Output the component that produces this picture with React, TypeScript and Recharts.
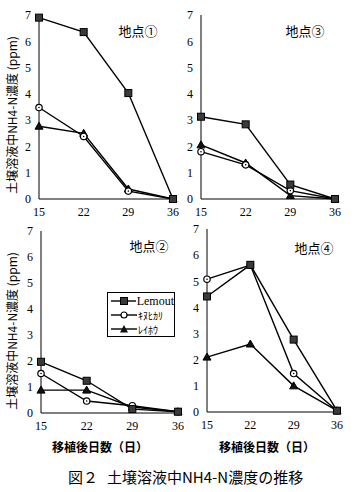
import React from "react"
import { LineChart, Line, XAxis, YAxis } from "recharts"

const days = [15, 22, 29, 36]
const yTicks = [0, 1, 2, 3, 4, 5, 6, 7]

const site1Lemout = [6.9, 6.35, 4.03, 0]
const site1Kinu = [3.48, 2.38, 0.3, 0]
const site1Reiho = [2.77, 2.5, 0.38, 0]

const site3Lemout = [3.13, 2.84, 0.55, 0]
const site3Kinu = [1.8, 1.3, 0.32, 0]
const site3Reiho = [2.06, 1.37, 0.13, 0]

const site2Lemout = [1.97, 1.24, 0.15, 0.05]
const site2Kinu = [1.52, 0.46, 0.28, 0.05]
const site2Reiho = [0.88, 0.88, 0.23, 0.05]

const site4Lemout = [4.42, 5.63, 2.77, 0.05]
const site4Kinu = [5.08, 5.62, 1.47, 0.05]
const site4Reiho = [2.1, 2.6, 1.0, 0.05]

const varieties = ["Lemout", "ｷﾇﾋｶﾘ", "ﾚｲﾎｳ"]
const yLabel = "土壌溶液中NH4-N濃度 (ppm)"
const xLabel = "移植後日数（日）"

const serif = "'Liberation Serif', 'DejaVu Serif', serif"
const jp = "'Noto Sans CJK JP', sans-serif"

function buildRows(a: number[], b: number[], c: number[]) {
  return days.map((d, i) => ({ day: d, lemout: a[i], kinu: b[i], reiho: c[i] }))
}

const SquareDot = (p: any) => (
  <rect key={`sq-${p.index}`} x={p.cx - 3.5} y={p.cy - 3.5} width={7} height={7} fill="#3a3a3a" stroke="#000" strokeWidth={1} />
)
const CircleDot = (p: any) => (
  <g key={`ci-${p.index}`}>
    <circle cx={p.cx} cy={p.cy} r={3.2} fill="#fff" stroke="#000" strokeWidth={1.2} />
    <circle cx={p.cx} cy={p.cy} r={0.8} fill="#000" />
  </g>
)
const TriDot = (p: any) => (
  <polygon key={`tr-${p.index}`} points={`${p.cx},${p.cy - 4} ${p.cx - 4},${p.cy + 3} ${p.cx + 4},${p.cy + 3}`} fill="#111" stroke="#000" />
)

function Panel({ left, top, width, height, rows }: any) {
  return (
    <div style={{ position: "absolute", left, top }}>
      <LineChart width={width} height={height} data={rows} margin={{ top: 15, right: 7, left: 0, bottom: 0 }}>
        <XAxis
          dataKey="day"
          type="number"
          domain={[15, 36]}
          ticks={days}
          height={26}
          tickLine={false}
          axisLine={{ stroke: "#000" }}
          tick={{ fill: "#000", fontSize: 12, fontFamily: serif }}
        />
        <YAxis
          domain={[0, 7]}
          ticks={yTicks}
          width={39}
          tickLine={false}
          axisLine={{ stroke: "#000" }}
          tick={{ fill: "#000", fontSize: 12, fontFamily: serif }}
        />
        <Line type="linear" dataKey="reiho" stroke="#000" strokeWidth={1.4} dot={TriDot} activeDot={false} isAnimationActive={false} />
        <Line type="linear" dataKey="kinu" stroke="#000" strokeWidth={1.4} dot={CircleDot} activeDot={false} isAnimationActive={false} />
        <Line type="linear" dataKey="lemout" stroke="#000" strokeWidth={1.4} dot={SquareDot} activeDot={false} isAnimationActive={false} />
      </LineChart>
    </div>
  )
}

function Text({ x, y, children, size = 13, rotate = 0, weight = 400, family = jp }: any) {
  return (
    <div
      style={{
        position: "absolute",
        left: x,
        top: y,
        transform: `translate(-50%, -50%) rotate(${rotate}deg)`,
        whiteSpace: "nowrap",
        fontSize: size,
        fontWeight: weight,
        fontFamily: family,
        color: "#000",
        lineHeight: 1,
      }}
    >
      {children}
    </div>
  )
}

function LegendRow({ kind, label }: any) {
  return (
    <div style={{ display: "flex", alignItems: "center", height: 14 }}>
      <svg width={26} height={10}>
        <line x1={0} y1={5} x2={26} y2={5} stroke="#000" strokeWidth={1.4} />
        {kind === 0 && <rect x={9.5} y={1.5} width={7} height={7} fill="#3a3a3a" stroke="#000" />}
        {kind === 1 && <circle cx={13} cy={5} r={3} fill="#fff" stroke="#000" strokeWidth={1.2} />}
        {kind === 2 && <polygon points="13,1 9,8.5 17,8.5" fill="#111" />}
      </svg>
      <span style={{ fontFamily: kind === 0 ? serif : jp, fontSize: kind === 0 ? 12 : 10, marginLeft: 1 }}>{label}</span>
    </div>
  )
}

export default function App() {
  return (
    <div style={{ position: "absolute", left: 0, top: 0, width: 357, height: 492, background: "#fff", overflow: "hidden" }}>
      <Panel left={0} top={0} width={180} height={225} rows={buildRows(site1Lemout, site1Kinu, site1Reiho)} />
      <Panel left={162} top={0} width={180} height={225} rows={buildRows(site3Lemout, site3Kinu, site3Reiho)} />
      <Panel left={2} top={216} width={183} height={223} rows={buildRows(site2Lemout, site2Kinu, site2Reiho)} />
      <Panel left={168} top={214} width={176} height={224} rows={buildRows(site4Lemout, site4Kinu, site4Reiho)} />

      <Text x={138} y={30}>地点①</Text>
      <Text x={305} y={30}>地点③</Text>
      <Text x={149} y={245}>地点②</Text>
      <Text x={314} y={247}>地点④</Text>

      <Text x={12} y={115} rotate={-90} size={12}>{yLabel}</Text>
      <Text x={12} y={331} rotate={-90} size={12}>{yLabel}</Text>

      <Text x={100} y={447} size={12} weight={600}>{xLabel}</Text>
      <Text x={267} y={447} size={12} weight={600}>{xLabel}</Text>

      <div
        style={{
          position: "absolute",
          left: 107,
          top: 292,
          width: 68,
          height: 45,
          border: "1px solid #000",
          boxSizing: "border-box",
          padding: "1px 0 0 3px",
          background: "#fff",
        }}
      >
        {varieties.map((v, i) => (
          <LegendRow key={v} kind={i} label={v} />
        ))}
      </div>

      <div style={{ position: "absolute", left: 68, top: 469, fontFamily: jp, fontSize: 15, fontWeight: 400, whiteSpace: "nowrap", lineHeight: 1 }}>
        <span>図２</span>
        <span style={{ marginLeft: 9 }}>土壌溶液中NH4-N濃度の推移</span>
      </div>
    </div>
  )
}
